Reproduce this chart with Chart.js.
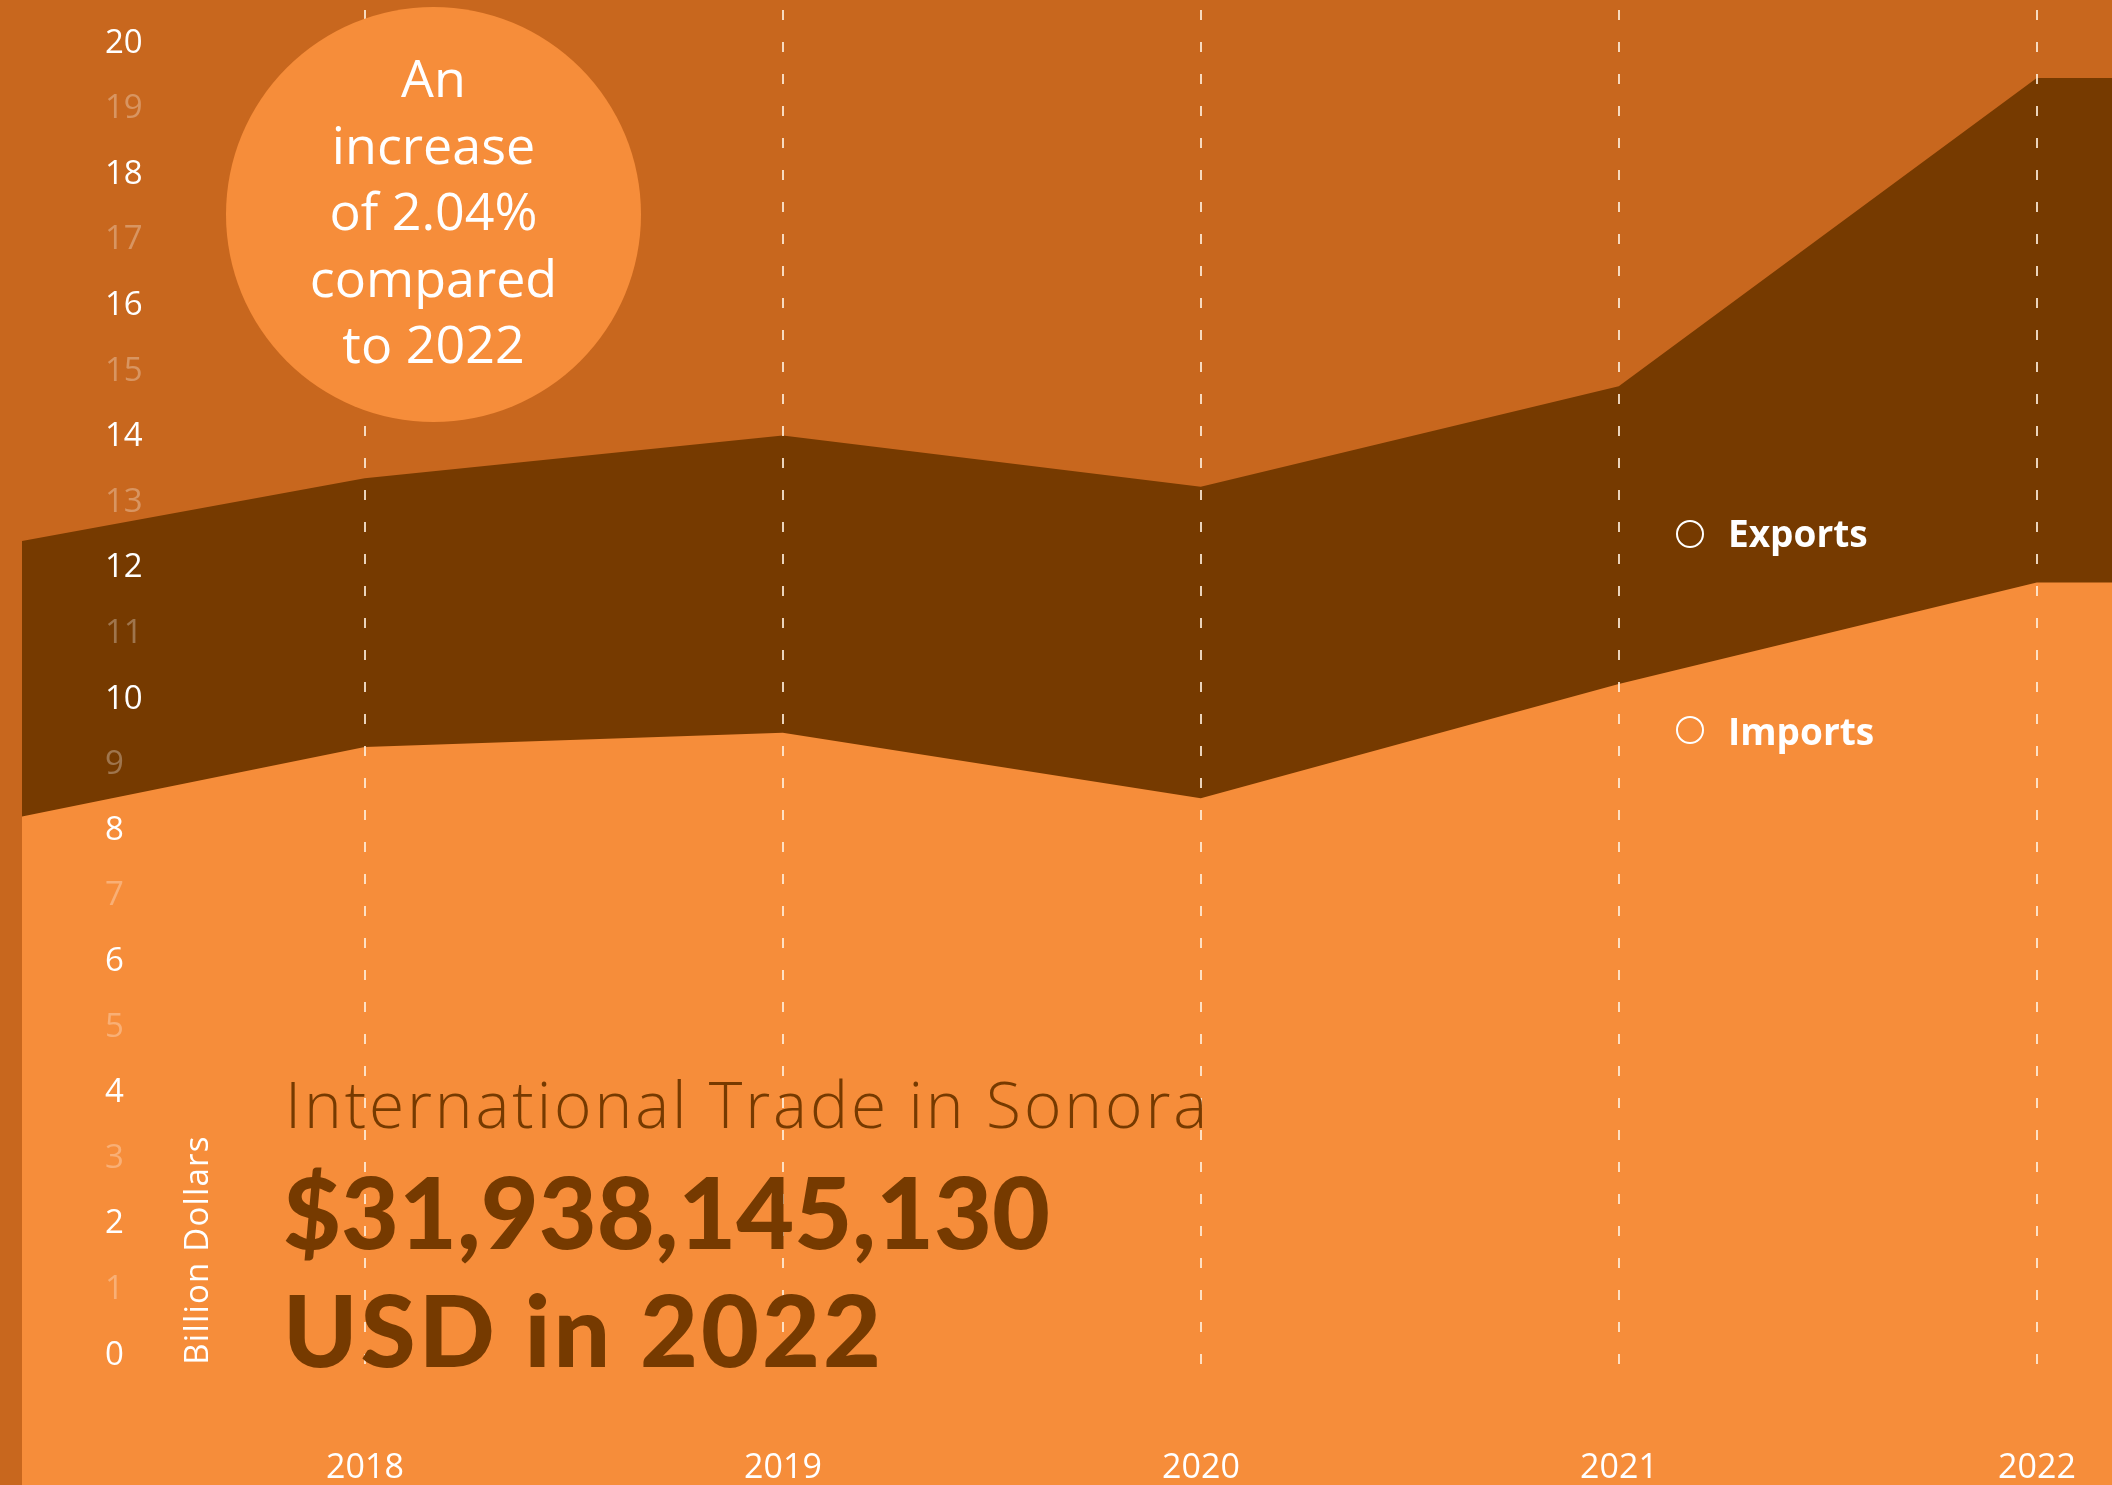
<!DOCTYPE html>
<html>
<head>
<meta charset="utf-8">
<title>International Trade in Sonora</title>
<script src="https://cdn.jsdelivr.net/npm/chart.js@4.4.1/dist/chart.umd.min.js"></script>
<style>
  html, body { margin: 0; padding: 0; width: 2112px; height: 1485px; overflow: hidden; background: #C8671E; }
  #wrap { position: relative; width: 2112px; height: 1485px; }
  #chart { position: absolute; left: 0; top: 0; }
  .bubble { position: absolute; left: 226px; top: 7px; width: 415px; height: 415px; border-radius: 50%; background: #F68D3A; }
  .bubble-text { position: absolute; left: 226px; top: 44px; width: 415px; text-align: center;
    font: 400 52px/66.5px "Open Sans", sans-serif; color: #fff; }
  .unit { position: absolute; left: 46px; top: 1230px; width: 300px; height: 40px; text-align: center;
    font: 400 33px/40px "Open Sans", sans-serif; letter-spacing: 1.2px; color: #fff;
    transform-origin: 150px 20px; transform: rotate(-90deg); }
  .title { position: absolute; left: 285px; top: 1072px; white-space: nowrap;
    font: 300 64px/64px "Open Sans", sans-serif; letter-spacing: 2.9px; color: #763A00; }
  .total { position: absolute; left: 283px; top: 1151px; white-space: nowrap;
    font: 900 100px/118px Lato, sans-serif; color: #763A00; }
  .total .second { letter-spacing: 3px; }
  .legend-item { position: absolute; left: 1676px; height: 40px; }
  .legend-item i { position: absolute; left: 0; width: 28px; height: 28px; box-sizing: border-box;
    border: 2.5px solid #fff; border-radius: 50%; }
  .legend-item span { position: absolute; left: 52px; white-space: nowrap;
    font: 700 37px/37px "Open Sans", sans-serif; color: #fff; }
</style>
</head>
<body>
<div id="wrap">
  <canvas id="chart" width="2112" height="1485"></canvas>
  <div class="bubble"></div>
  <div class="bubble-text">An<br>increase<br>of 2.04%<br>compared<br>to 2022</div>
  <div class="unit">Billion Dollars</div>
  <div class="title">International Trade in Sonora</div>
  <div class="total">$31,938,145,130<br><span class="second">USD in 2022</span></div>
  <div class="legend-item" style="top:520px"><i style="top:0"></i><span style="top:-6px">Exports</span></div>
  <div class="legend-item" style="top:716px"><i style="top:0"></i><span style="top:-4px">Imports</span></div>
</div>
<script>
// values in billion USD
const years = [2017, 2018, 2019, 2020, 2021, 2022, 2023];
const exportsBn = [12.2, 13.37, 14.02, 13.24, 14.77, 19.47, 19.47];
const importsBn = [7.98, 9.27, 9.49, 8.49, 10.23, 11.78, 11.78];
const yearLabels = [2018, 2019, 2020, 2021, 2022];
const yTicks = [0, 1, 2, 3, 4, 5, 6, 7, 8, 9, 10, 11, 12, 13, 14, 15, 16, 17, 18, 19, 20];

const toPoints = (vals) => years.map((yr, i) => ({ x: yr, y: vals[i] }));

// dashed year lines + year labels, drawn over the filled areas
const yearLines = {
    id: 'yearLines',
    afterDatasetsDraw(chart) {
        const { ctx, chartArea, scales: { x, y } } = chart;
        ctx.save();
        ctx.strokeStyle = 'rgba(255, 238, 220, 0.85)';
        ctx.lineWidth = 2;
        ctx.setLineDash([10, 22]);
        ctx.font = '400 34px "Open Sans"';
        ctx.fillStyle = '#fff';
        ctx.textAlign = 'center';
        ctx.textBaseline = 'alphabetic';
        yearLabels.forEach((yr) => {
            const px = Math.round(x.getPixelForValue(yr));
            ctx.beginPath();
            ctx.moveTo(px, chartArea.top + 10);
            ctx.lineTo(px, y.getPixelForValue(-0.18));
            ctx.stroke();
            ctx.fillText(String(yr), px, chartArea.bottom - 7);
        });
        ctx.restore();
    }
};

new Chart(document.getElementById('chart'), {
    type: 'line',
    data: {
        datasets: [
            {
                label: 'Exports',
                data: toPoints(exportsBn),
                backgroundColor: '#763A00',
                borderColor: 'rgba(0,0,0,0)',
                borderWidth: 0,
                pointRadius: 0,
                tension: 0,
                fill: 'start',
                order: 2,
            },
            {
                label: 'Imports',
                data: toPoints(importsBn),
                backgroundColor: '#F68D3A',
                borderColor: 'rgba(0,0,0,0)',
                borderWidth: 0,
                pointRadius: 0,
                tension: 0,
                fill: 'start',
                order: 1,
            },
        ],
    },
    options: {
        responsive: false,
        animation: false,
        layout: { padding: { left: 22, right: 0, top: 0, bottom: 0 } },
        plugins: {
            legend: { display: false },
            tooltip: { enabled: false },
        },
        scales: {
            x: {
                type: 'linear',
                min: 2017.18,
                max: 2022.18,
                display: false,
            },
            y: {
                type: 'linear',
                min: -1.98,
                max: 20.66,
                afterBuildTicks: (scale) => { scale.ticks = yTicks.map((v) => ({ value: v })); },
                afterFit: (scale) => { scale.width = 0; scale.paddingTop = 0; scale.paddingBottom = 0; },
                grid: { display: false, drawTicks: false },
                border: { display: false },
                ticks: {
                    z: 1,
                    mirror: true,
                    padding: 83,
                    autoSkip: false,
                    font: { family: 'Open Sans', size: 33 },
                    color: (c) => (c.tick.value % 2 === 0 ? '#fff' : 'rgba(255,255,255,0.3)'),
                },
            },
        },
    },
    plugins: [yearLines],
});
</script>
</body>
</html>
